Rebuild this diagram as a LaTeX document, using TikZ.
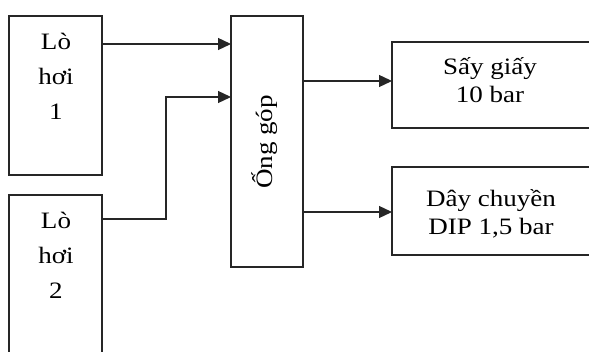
\documentclass[tikz,border=0pt]{standalone}
\usepackage{fontspec}
\setmainfont{Liberation Serif}[FakeStretch=1.15]
\usetikzlibrary{arrows.meta}
\begin{document}
\begin{tikzpicture}[x=1pt,y=-1pt,
  frame/.style={draw=black!85, line width=1.3pt, inner sep=0pt, outer sep=0pt},
  txt/.style={inner sep=0pt, align=center, anchor=base, font=\fontsize{23.5}{28}\selectfont},
  tallbox/.style={txt, font=\fontsize{23.5}{35}\selectfont},
  flow/.style={line width=1.3pt, draw=black!85, -{Triangle[length=13pt,width=12pt]}}]
\useasboundingbox (0,0) rectangle (589,352);
\clip (0,0) rectangle (589,352);
% boxes
\node[frame, minimum width=93pt, minimum height=159pt] (b1) at (55.5,95.5) {};
\node[frame, minimum width=93pt, minimum height=185pt] (b2) at (55.5,287.5) {};
\node[frame, minimum width=72pt, minimum height=251pt] (og) at (267,141.5) {};
\node[frame, minimum width=218pt, minimum height=86pt] (s1) at (501,85) {};
\node[frame, minimum width=218pt, minimum height=88pt] (s2) at (501,211) {};
% texts (anchor base = last line)
\node[tallbox] (t1) at (56,120) {Lò\\hơi\\1};
\node[tallbox] (t2) at (56,299) {Lò\\hơi\\2};
\node[inner sep=0pt, rotate=90, font=\fontsize{23.5}{28}\selectfont] (t3) at (265,142) {Ống góp};
\node[txt] (t4) at (490,103) {Sấy giấy\\10 bar};
\node[txt] (t5) at (491,235) {Dây chuyền\\DIP 1,5 bar};
% connector points
\coordinate (p1) at (0,44);
\coordinate (p2) at (166,219);
\coordinate (p3) at (166,97);
\coordinate (p4) at (0,81);
\coordinate (p5) at (0,212);
% connectors
\draw[flow] (b1.east |- p1) -- (og.west |- p1);
\draw[flow] (b2.east |- p2) -- (p2) -- (p3) -- (og.west |- p3);
\draw[flow] (og.east |- p4) -- (s1.west |- p4);
\draw[flow] (og.east |- p5) -- (s2.west |- p5);
\end{tikzpicture}
\end{document}
